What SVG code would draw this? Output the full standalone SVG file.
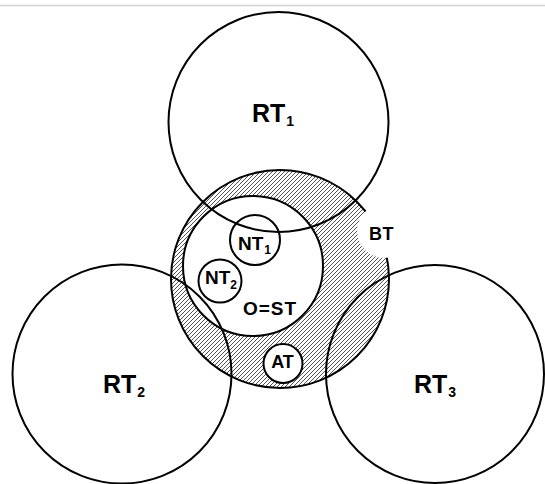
<svg xmlns="http://www.w3.org/2000/svg" width="545" height="484" viewBox="0 0 545 484">
  <defs>
    <pattern id="hatch" patternUnits="userSpaceOnUse" width="4" height="4">
      <rect width="4" height="4" fill="#ffffff"/>
      <path d="M-1,1 L1,-1 M0,4 L4,0 M3,5 L5,3" stroke="#333" stroke-width="0.85"/>
    </pattern>
  </defs>
  <style>
    .ring { fill: none; stroke: #000; stroke-width: 2; }
    .white { fill: #fff; stroke: #000; stroke-width: 2; }
    .lbl { font-family: "Liberation Sans", Arial, sans-serif; font-weight: bold; fill: #000; }
  </style>
  <rect width="545" height="484" fill="#fff"/>
  <line x1="0" y1="5.5" x2="545" y2="5.5" stroke="#d3d3d3" stroke-width="1.5"/>

  <g id="BT">
    <circle cx="280" cy="279" r="109" fill="url(#hatch)" stroke="#000" stroke-width="2"/>
  </g>
  <g id="OST">
    <circle cx="253" cy="266" r="70" class="white"/>
    <text class="lbl" x="243" y="315" font-size="19" textLength="53">O=ST</text>
  </g>
  <g id="AT">
    <circle cx="283" cy="363.5" r="19.5" class="white"/>
    <text class="lbl" x="282.5" y="367.5" font-size="18" text-anchor="middle">AT</text>
  </g>
  <g id="BT-label">
    <circle cx="384" cy="231" r="27" fill="#fff"/>
    <text class="lbl" x="369" y="239.5" font-size="18" letter-spacing="0.5">BT</text>
  </g>
  <g id="RT1">
    <circle cx="278.5" cy="122" r="110" class="ring"/>
    <text class="lbl" x="252" y="122" font-size="25">RT<tspan font-size="14" dx="1" dy="4">1</tspan></text>
  </g>
  <g id="RT2">
    <circle cx="122" cy="374" r="109.5" class="ring"/>
    <text class="lbl" x="103" y="393" font-size="25">RT<tspan font-size="14" dx="1" dy="4">2</tspan></text>
  </g>
  <g id="RT3">
    <circle cx="435" cy="374" r="109" class="ring"/>
    <text class="lbl" x="414" y="393" font-size="25">RT<tspan font-size="14" dx="1" dy="4">3</tspan></text>
  </g>
  <g id="NT1">
    <circle cx="255" cy="240" r="25" class="ring"/>
    <text class="lbl" x="238" y="250" font-size="19">NT<tspan font-size="12" dx="1" dy="4">1</tspan></text>
  </g>
  <g id="NT2">
    <circle cx="220" cy="281" r="21.5" class="ring"/>
    <text class="lbl" x="205" y="284" font-size="19">NT<tspan font-size="12" dx="0" dy="5">2</tspan></text>
  </g>
  <g id="connectors"/>
</svg>
